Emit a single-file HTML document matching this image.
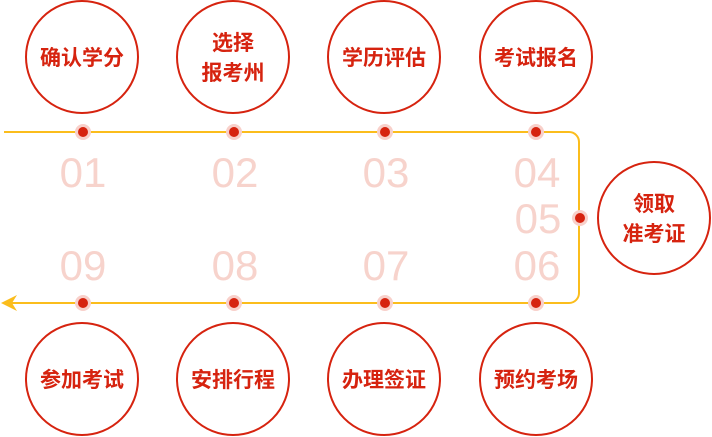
<!DOCTYPE html>
<html><head><meta charset="utf-8"><style>
html,body{margin:0;padding:0;background:#fff;}
svg{display:block}
.c{fill:#fff;stroke:#d6230f;stroke-width:2}
.t{font-family:"Liberation Sans","Noto Sans CJK SC",sans-serif;font-weight:bold;font-size:21px;fill:#d6230f;text-anchor:middle}
.n{font-family:"Liberation Sans","Noto Sans CJK SC",sans-serif;font-size:42px;fill:#f7d3cc;text-anchor:middle}
.h{fill:#f8d0ca}.d{fill:#d6230f}
</style></head><body>
<svg width="712" height="437" viewBox="0 0 712 437">
<path d="M4 132 H569 A10 10 0 0 1 579 142 V293 A10 10 0 0 1 569 303 H12" fill="none" stroke="#fbbd1c" stroke-width="2"/>
<path d="M1 303 L17 295 L12 303 L17 311 Z" fill="#fbbd1c"/>
<g class="n">
<text x="83" y="187">01</text><text x="235" y="187">02</text><text x="386" y="187">03</text><text x="537" y="187">04</text>
<text x="538" y="233">05</text>
<text x="83" y="280">09</text><text x="235" y="280">08</text><text x="386" y="280">07</text><text x="537" y="280">06</text>
</g>
<g>
<circle class="c" cx="82" cy="57" r="56"/><circle class="c" cx="233" cy="57" r="56"/><circle class="c" cx="384" cy="57" r="56"/><circle class="c" cx="536" cy="57" r="56"/>
<circle class="c" cx="654" cy="218" r="56"/>
<circle class="c" cx="82" cy="379" r="56"/><circle class="c" cx="233" cy="379" r="56"/><circle class="c" cx="384" cy="379" r="56"/><circle class="c" cx="536" cy="379" r="56"/>
</g>
<g>
<circle class="h" cx="83" cy="132" r="8"/><circle class="d" cx="83" cy="132" r="5"/>
<circle class="h" cx="234" cy="132" r="8"/><circle class="d" cx="234" cy="132" r="5"/>
<circle class="h" cx="385" cy="132" r="8"/><circle class="d" cx="385" cy="132" r="5"/>
<circle class="h" cx="536" cy="132" r="8"/><circle class="d" cx="536" cy="132" r="5"/>
<circle class="h" cx="580" cy="218" r="8"/><circle class="d" cx="580" cy="218" r="5"/>
<circle class="h" cx="83" cy="303" r="8"/><circle class="d" cx="83" cy="303" r="5"/>
<circle class="h" cx="234" cy="303" r="8"/><circle class="d" cx="234" cy="303" r="5"/>
<circle class="h" cx="385" cy="303" r="8"/><circle class="d" cx="385" cy="303" r="5"/>
<circle class="h" cx="536" cy="303" r="8"/><circle class="d" cx="536" cy="303" r="5"/>
</g>
<g class="t">
<text x="82" y="65">确认学分</text>
<text x="233" y="50">选择</text><text x="233" y="80">报考州</text>
<text x="384" y="65">学历评估</text>
<text x="536" y="65">考试报名</text>
<text x="654" y="211">领取</text><text x="654" y="241">准考证</text>
<text x="82" y="387">参加考试</text>
<text x="233" y="387">安排行程</text>
<text x="384" y="387">办理签证</text>
<text x="536" y="387">预约考场</text>
</g>
</svg>
</body></html>
